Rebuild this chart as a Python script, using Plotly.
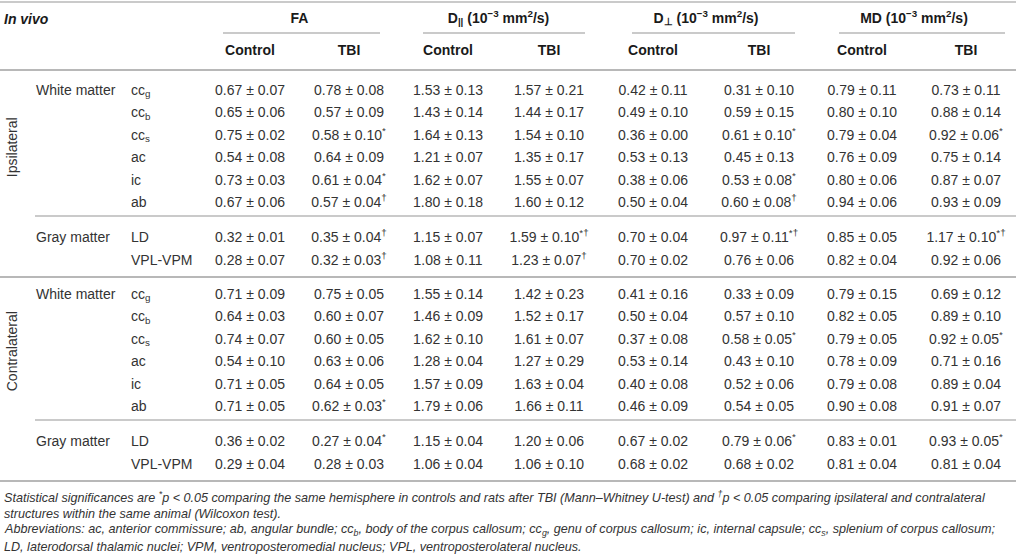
import plotly.graph_objects as go

# Table content
HEMISPHERES = ["Ipsilateral", "Contralateral"]
TISSUES = ["White matter", "Gray matter"]
STRUCTURES = ["cc<sub>g</sub>", "cc<sub>b</sub>", "cc<sub>s</sub>", "ac", "ic", "ab", "LD", "VPL-VPM"]
N_WHITE = 6  # first six structures are white matter

MEASURES = ["FA",
            "D<sub>||</sub> (10<sup>−3</sup> mm<sup>2</sup>/s)",
            "D<sub>⊥</sub> (10<sup>−3</sup> mm<sup>2</sup>/s)",
            "MD (10<sup>−3</sup> mm<sup>2</sup>/s)"]
GROUPS = ["Control", "TBI"]

# values: 8 ipsilateral rows, then 8 contralateral rows
FA_CONTROL = ["0.67 ± 0.07", "0.65 ± 0.06", "0.75 ± 0.02", "0.54 ± 0.08", "0.73 ± 0.03", "0.67 ± 0.06", "0.32 ± 0.01", "0.28 ± 0.07",
              "0.71 ± 0.09", "0.64 ± 0.03", "0.74 ± 0.07", "0.54 ± 0.10", "0.71 ± 0.05", "0.71 ± 0.05", "0.36 ± 0.02", "0.29 ± 0.04"]
FA_TBI = ["0.78 ± 0.08", "0.57 ± 0.09", "0.58 ± 0.10*", "0.64 ± 0.09", "0.61 ± 0.04*", "0.57 ± 0.04†", "0.35 ± 0.04†", "0.32 ± 0.03†",
          "0.75 ± 0.05", "0.60 ± 0.07", "0.60 ± 0.05", "0.63 ± 0.06", "0.64 ± 0.05", "0.62 ± 0.03*", "0.27 ± 0.04*", "0.28 ± 0.03"]
DPAR_CONTROL = ["1.53 ± 0.13", "1.43 ± 0.14", "1.64 ± 0.13", "1.21 ± 0.07", "1.62 ± 0.07", "1.80 ± 0.18", "1.15 ± 0.07", "1.08 ± 0.11",
                "1.55 ± 0.14", "1.46 ± 0.09", "1.62 ± 0.10", "1.28 ± 0.04", "1.57 ± 0.09", "1.79 ± 0.06", "1.15 ± 0.04", "1.06 ± 0.04"]
DPAR_TBI = ["1.57 ± 0.21", "1.44 ± 0.17", "1.54 ± 0.10", "1.35 ± 0.17", "1.55 ± 0.07", "1.60 ± 0.12", "1.59 ± 0.10*†", "1.23 ± 0.07†",
            "1.42 ± 0.23", "1.52 ± 0.17", "1.61 ± 0.07", "1.27 ± 0.29", "1.63 ± 0.04", "1.66 ± 0.11", "1.20 ± 0.06", "1.06 ± 0.10"]
DPERP_CONTROL = ["0.42 ± 0.11", "0.49 ± 0.10", "0.36 ± 0.00", "0.53 ± 0.13", "0.38 ± 0.06", "0.50 ± 0.04", "0.70 ± 0.04", "0.70 ± 0.02",
                 "0.41 ± 0.16", "0.50 ± 0.04", "0.37 ± 0.08", "0.53 ± 0.14", "0.40 ± 0.08", "0.46 ± 0.09", "0.67 ± 0.02", "0.68 ± 0.02"]
DPERP_TBI = ["0.31 ± 0.10", "0.59 ± 0.15", "0.61 ± 0.10*", "0.45 ± 0.13", "0.53 ± 0.08*", "0.60 ± 0.08†", "0.97 ± 0.11*†", "0.76 ± 0.06",
             "0.33 ± 0.09", "0.57 ± 0.10", "0.58 ± 0.05*", "0.43 ± 0.10", "0.52 ± 0.06", "0.54 ± 0.05", "0.79 ± 0.06*", "0.68 ± 0.02"]
MD_CONTROL = ["0.79 ± 0.11", "0.80 ± 0.10", "0.79 ± 0.04", "0.76 ± 0.09", "0.80 ± 0.06", "0.94 ± 0.06", "0.85 ± 0.05", "0.82 ± 0.04",
              "0.79 ± 0.15", "0.82 ± 0.05", "0.79 ± 0.05", "0.78 ± 0.09", "0.79 ± 0.08", "0.90 ± 0.08", "0.83 ± 0.01", "0.81 ± 0.04"]
MD_TBI = ["0.73 ± 0.11", "0.88 ± 0.14", "0.92 ± 0.06*", "0.75 ± 0.14", "0.87 ± 0.07", "0.93 ± 0.09", "1.17 ± 0.10*†", "0.92 ± 0.06",
          "0.69 ± 0.12", "0.89 ± 0.10", "0.92 ± 0.05*", "0.71 ± 0.16", "0.89 ± 0.04", "0.91 ± 0.07", "0.93 ± 0.05*", "0.81 ± 0.04"]

COLUMNS = [FA_CONTROL, FA_TBI, DPAR_CONTROL, DPAR_TBI, DPERP_CONTROL, DPERP_TBI, MD_CONTROL, MD_TBI]

NOTES = [
    "Statistical significances are <sup>*</sup>p &lt; 0.05 comparing the same hemisphere in controls and rats after TBI (Mann–Whitney U-test) and <sup>†</sup>p &lt; 0.05 comparing ipsilateral and contralateral",
    "structures within the same animal (Wilcoxon test).",
    "Abbreviations: ac, anterior commissure; ab, angular bundle; cc<sub>b</sub>, body of the corpus callosum; cc<sub>g</sub>, genu of corpus callosum; ic, internal capsule; cc<sub>s</sub>, splenium of corpus callosum;",
    "LD, laterodorsal thalamic nuclei; VPM, ventroposteromedial nucleus; VPL, ventroposterolateral nucleus.",
]

# layout (pixel units of the 1016x560 page)
W, H = 1016, 560
FONT = "Liberation Sans, Arial, Helvetica, sans-serif"
TXT = "#333333"
HEAD = "#1a1a1a"
RULE = "#b8b8b8"
COL_X = [250, 349, 448, 549, 653, 759, 862, 966]
UNDERLINES = [(223, 380), (423, 585), (632, 795), (839, 1005)]
TISSUE_X, STRUCT_X = 36, 131
SECTION_TOP = [91, 295]
PITCH = 22.5
GRAY_GAP = 12.5


def fmt(v):
    # trailing significance markers become superscripts
    core = v.rstrip("*†")
    mark = v[len(core):]
    return core + (f"<sup>{mark}</sup>" if mark else "")


def row_y(i):
    sec, k = divmod(i, len(STRUCTURES))
    y = SECTION_TOP[sec] + k * PITCH
    if k >= N_WHITE:
        y += GRAY_GAP
    return y


n_rows = len(STRUCTURES) * len(HEMISPHERES)
ys = [row_y(i) for i in range(n_rows)]

fig = go.Figure()

# value columns
for j, col in enumerate(COLUMNS):
    fig.add_trace(go.Scatter(
        x=[COL_X[j]] * n_rows, y=ys, mode="text",
        text=[fmt(v) for v in col], textposition="middle center",
        textfont=dict(family=FONT, size=14, color=TXT),
        hoverinfo="skip", showlegend=False, cliponaxis=False))

# structure labels
fig.add_trace(go.Scatter(
    x=[STRUCT_X] * n_rows, y=ys, mode="text",
    text=STRUCTURES * len(HEMISPHERES), textposition="middle right",
    textfont=dict(family=FONT, size=14, color=TXT),
    hoverinfo="skip", showlegend=False, cliponaxis=False))

# tissue labels
tissue_rows = []
for h in range(len(HEMISPHERES)):
    tissue_rows += [h * len(STRUCTURES), h * len(STRUCTURES) + N_WHITE]
fig.add_trace(go.Scatter(
    x=[TISSUE_X] * len(tissue_rows), y=[ys[i] for i in tissue_rows], mode="text",
    text=TISSUES * len(HEMISPHERES), textposition="middle right",
    textfont=dict(family=FONT, size=14, color=TXT),
    hoverinfo="skip", showlegend=False, cliponaxis=False))

# headers
fig.add_trace(go.Scatter(
    x=[(COL_X[2 * g] + COL_X[2 * g + 1]) / 2 for g in range(len(MEASURES))],
    y=[19] * len(MEASURES), mode="text",
    text=[f"<b>{m}</b>" for m in MEASURES], textposition="middle center",
    textfont=dict(family=FONT, size=14, color=HEAD),
    hoverinfo="skip", showlegend=False, cliponaxis=False))
fig.add_trace(go.Scatter(
    x=COL_X, y=[51] * len(COL_X), mode="text",
    text=[f"<b>{g}</b>" for g in GROUPS * len(MEASURES)], textposition="middle center",
    textfont=dict(family=FONT, size=14, color=HEAD),
    hoverinfo="skip", showlegend=False, cliponaxis=False))

fig.add_annotation(x=2, y=19, text="<b><i>In vivo</i></b>", showarrow=False,
                   xanchor="left", yanchor="middle", font=dict(family=FONT, size=14, color=HEAD))

# hemisphere labels, rotated
for h, name in enumerate(HEMISPHERES):
    first = h * len(STRUCTURES)
    yc = (ys[first] + ys[first + N_WHITE - 1]) / 2
    fig.add_annotation(x=12, y=yc, text=name, textangle=-90, showarrow=False,
                       xanchor="center", yanchor="middle", font=dict(family=FONT, size=14, color=TXT))

# rules
def rule(x0, x1, y, width=1.6):
    fig.add_shape(type="line", x0=x0, x1=x1, y0=y, y1=y, xref="x", yref="y",
                  line=dict(color=RULE, width=width))

rule(0, W, 2)
for x0, x1 in UNDERLINES:
    rule(x0, x1, 33)
rule(0, W, 70, 2)
for h in range(len(HEMISPHERES)):
    first = h * len(STRUCTURES)
    rule(TISSUE_X - 1, W, ys[first + N_WHITE - 1] + 12.5)
    rule(0, W, ys[first + len(STRUCTURES) - 1] + 16, 2)

# footnotes
for k, line in enumerate(NOTES):
    fig.add_annotation(x=2, y=497 + k * 16.5, text=f"<i>{line}</i>", showarrow=False,
                       xanchor="left", yanchor="middle", font=dict(family=FONT, size=12.6, color=TXT))

fig.update_xaxes(range=[0, W], visible=False, fixedrange=True)
fig.update_yaxes(range=[H, 0], visible=False, fixedrange=True)
fig.update_layout(width=W, height=H, margin=dict(l=0, r=0, t=0, b=0),
                  paper_bgcolor="white", plot_bgcolor="white")

# the page's default body margin would push the figure off by 8px
fig.write_html("out.html", config={"displayModeBar": False},
               post_script="document.body.style.margin = '0';")
